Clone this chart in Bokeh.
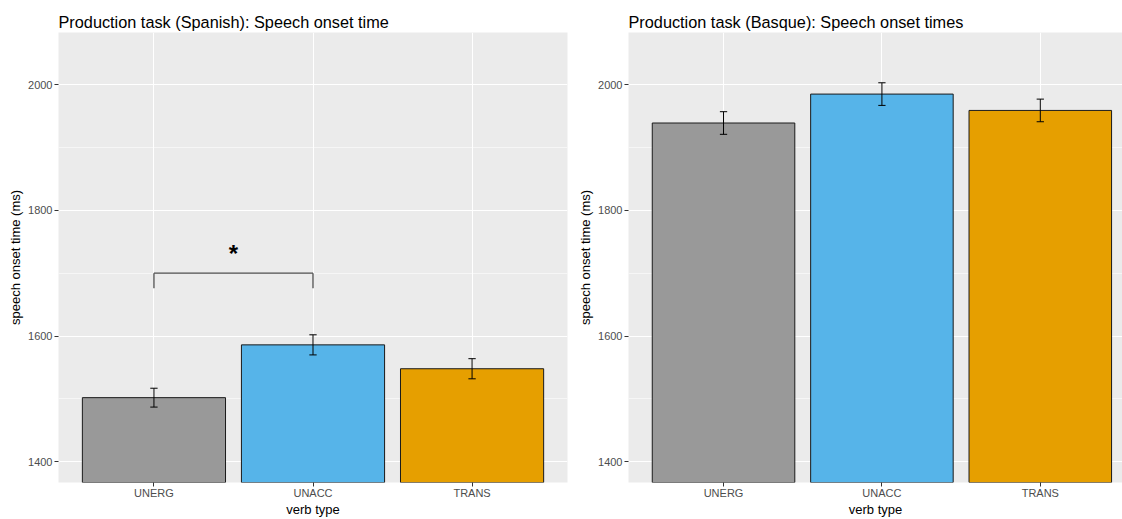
from bokeh.plotting import figure
from bokeh.layouts import row
from bokeh.models import ColumnDataSource, Range1d, FixedTicker
from bokeh.embed import file_html
from bokeh.resources import INLINE
from bokeh.core.properties import value

# ---- data -------------------------------------------------------------
categories = ["UNERG", "UNACC", "TRANS"]
bar_colors = ["#999999", "#56B4E9", "#E69F00"]

spanish_mean = [1502, 1586, 1548]
spanish_se = [15, 16, 16]

basque_mean = [1939, 1985, 1959]
basque_se = [18, 18, 18]

y_ticks = [1400, 1600, 1800, 2000]
y_minor_ticks = [1500, 1700, 1900]

# significance bracket between UNERG and UNACC (Spanish)
sig_from = "UNERG"
sig_to = "UNACC"
sig_y = 1700
sig_drop = 24
sig_label = "*"
sig_label_y = 1731

FONT = "Liberation Sans"


def make_panel(title, means, ses, width, border_left, border_right, x_end):
    xs = list(range(1, len(categories) + 1))
    p = figure(width=width, height=519, output_backend="svg", toolbar_location=None,
               x_range=Range1d(0.4, x_end), y_range=Range1d(1367, 2083),
               min_border_left=border_left, min_border_right=border_right,
               min_border_top=32, min_border_bottom=30, title=title)
    p.background_fill_color = "#EBEBEB"
    p.border_fill_color = "white"
    p.outline_line_color = None

    p.title.text_font = FONT
    p.title.text_font_size = "16.3px"
    p.title.text_font_style = "normal"
    p.title.text_color = "black"
    p.title.standoff = 4

    p.xaxis.ticker = FixedTicker(ticks=xs)
    p.xaxis.major_label_overrides = {x: c for x, c in zip(xs, categories)}
    p.yaxis.ticker = FixedTicker(ticks=y_ticks, minor_ticks=y_minor_ticks)

    for ax in (p.xaxis, p.yaxis):
        ax.axis_line_color = None
        ax.major_tick_line_color = "#333333"
        ax.major_tick_in = 0
        ax.major_tick_out = 4
        ax.minor_tick_in = 0
        ax.minor_tick_out = 0
        ax.major_label_text_font = FONT
        ax.major_label_text_font_size = "11px"
        ax.major_label_text_color = "#4D4D4D"
        ax.major_label_standoff = 2
        ax.axis_label_text_font = FONT
        ax.axis_label_text_font_size = "13px"
        ax.axis_label_text_font_style = "normal"
        ax.axis_label_text_color = "black"
        ax.axis_label_standoff = 2
    p.xaxis.major_label_standoff = 0
    p.xaxis.axis_label_standoff = 0
    p.xaxis.axis_label = "verb type"
    p.yaxis.axis_label = "speech onset time (ms)"

    p.xgrid.grid_line_color = "white"
    p.xgrid.grid_line_width = 1.1
    p.ygrid.grid_line_color = "white"
    p.ygrid.grid_line_width = 1.1
    p.ygrid.minor_grid_line_color = "white"
    p.ygrid.minor_grid_line_width = 0.55

    src = ColumnDataSource(dict(
        x=xs, top=means, color=bar_colors,
        lo=[m - s for m, s in zip(means, ses)],
        hi=[m + s for m, s in zip(means, ses)],
        cl=[x - 0.023 for x in xs],
        cr=[x + 0.023 for x in xs],
    ))
    p.vbar(x="x", top="top", bottom=0, width=0.9, fill_color="color",
           line_color="#1a1a1a", line_width=1, source=src)
    p.segment(x0="x", y0="lo", x1="x", y1="hi", line_color="black", line_width=1, source=src)
    p.segment(x0="cl", y0="lo", x1="cr", y1="lo", line_color="black", line_width=1, source=src)
    p.segment(x0="cl", y0="hi", x1="cr", y1="hi", line_color="black", line_width=1, source=src)
    return p


left = make_panel("Production task (Spanish): Speech onset time",
                  spanish_mean, spanish_se, 575, 58, 8, 3.6)
right = make_panel("Production task (Basque): Speech onset times",
                   basque_mean, basque_se, 547, 53, 0, 3.519)

# bracket + star on the Spanish panel
xa = categories.index(sig_from) + 1
xb = categories.index(sig_to) + 1
left.segment(x0=[xa, xa, xb], y0=[sig_y - sig_drop, sig_y, sig_y],
             x1=[xa, xb, xb], y1=[sig_y, sig_y, sig_y - sig_drop],
             line_color="#4d4d4d", line_width=1.3)
left.text(x=[(xa + xb) / 2], y=[sig_label_y], text=[sig_label],
          text_font=value(FONT), text_font_size="24px", text_font_style="bold",
          text_align="center", text_baseline="alphabetic", text_color="black")

layout = row(left, right, spacing=0)
open("out.html", "w").write(file_html(layout, INLINE))
